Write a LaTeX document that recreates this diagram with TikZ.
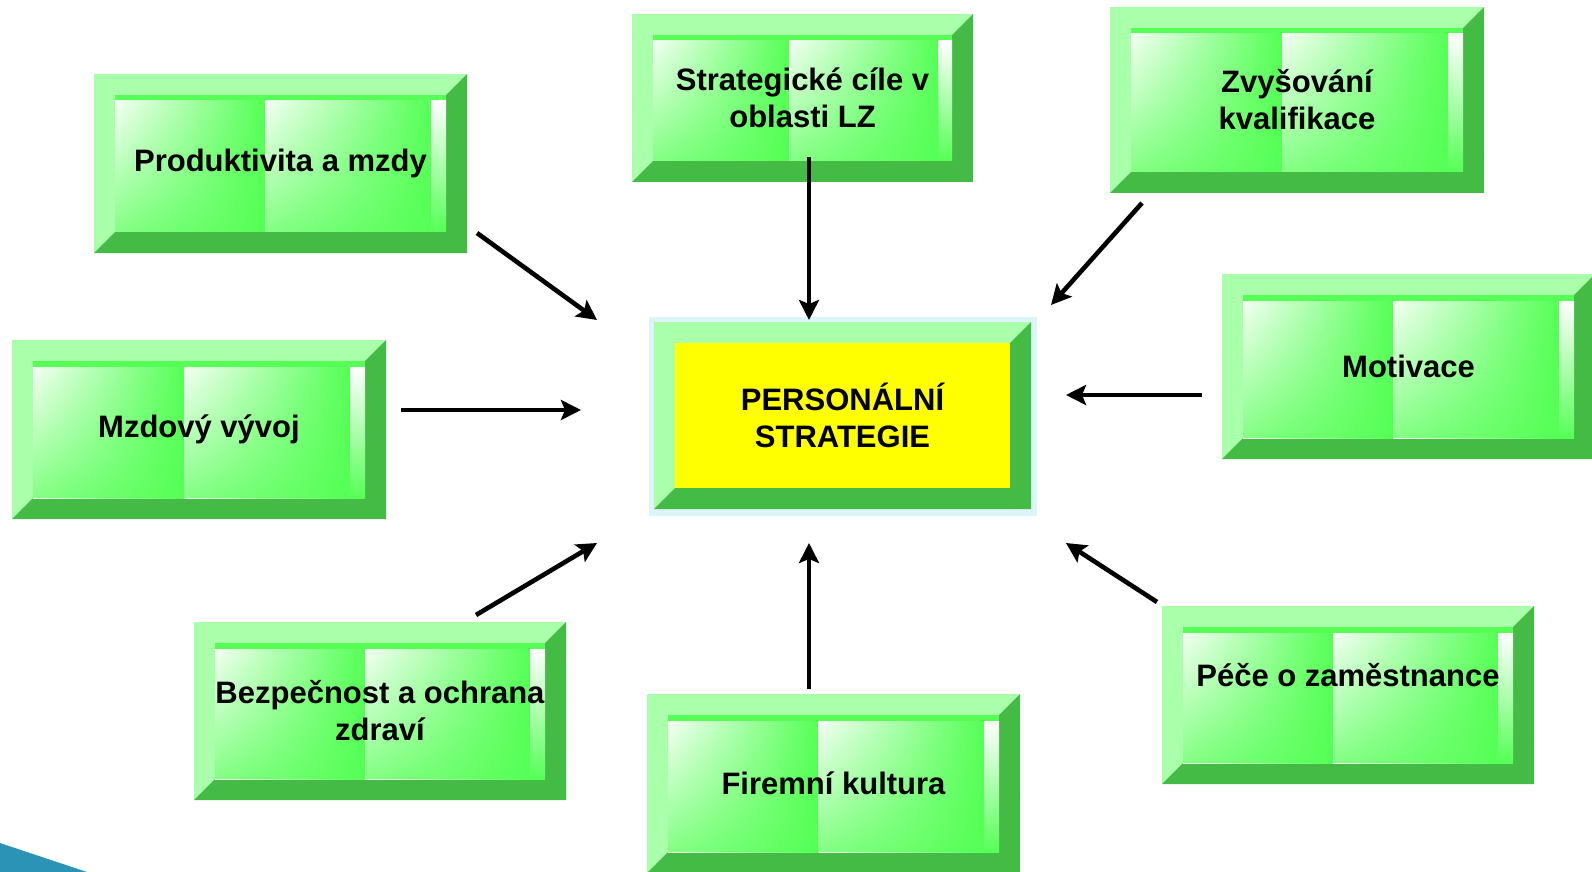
\documentclass[tikz,border=0pt]{standalone}
\usepackage{fontspec}
\setmainfont{Liberation Sans}
\usetikzlibrary{arrows.meta,calc,backgrounds,fadings}
\definecolor{bevlight}{HTML}{AAFFAA}
\definecolor{beveldark}{HTML}{44BB44}
\definecolor{glassgreen}{HTML}{55FF55}
\definecolor{glasspale}{HTML}{F4FFF4}
\definecolor{coreyellow}{HTML}{FFFF00}
\definecolor{frameblue}{HTML}{DDF4FA}
\definecolor{cornerblue}{HTML}{2A93B6}
\newcommand\boxfont{\bfseries\fontsize{15.5}{18.5}\selectfont}
\newcommand\bevelframe{%
  \coordinate (bnw) at (path picture bounding box.north west);
  \coordinate (bse) at (path picture bounding box.south east);
  \coordinate (bne) at (bnw -| bse);
  \coordinate (bsw) at (bse -| bnw);
  \fill[bevlight] (bnw) rectangle (bse);
  \fill[beveldark] (bne) -- (bse) -- (bsw) -- ([shift={(10.5pt,10.5pt)}]bsw)
    -- ([shift={(-10.5pt,10.5pt)}]bse) -- ([shift={(-10.5pt,-10.5pt)}]bne) -- cycle;
  \coordinate (fnw) at ([shift={(10.5pt,-10.5pt)}]bnw);
  \coordinate (fse) at ([shift={(-10.5pt,10.5pt)}]bse);
}
\newcommand\glassface{%
  \fill[glassgreen] (fnw) rectangle (fse);
  \coordinate (ptl) at ([yshift=-3pt]fnw);
  \coordinate (ps1) at ($(ptl)!.455!(ptl -| fse)$);
  \coordinate (ps2) at ($(ptl)!.955!(ptl -| fse)$);
  \shade[left color=glasspale, right color=glassgreen] (ptl) rectangle (ps1 |- fse);
  \shade[left color=glasspale, right color=glassgreen] (ps1) rectangle (ps2 |- fse);
  \shade[top color=white, bottom color=glassgreen] (ps2) rectangle (fse);
  \fill[glassgreen, path fading=north, fill opacity=.7] (ptl) rectangle (ps2 |- fse);
}
\tikzset{
  boxbase/.style={rectangle, inner sep=0pt, align=center, font=\boxfont,
    minimum width=186.5pt, minimum height=89.5pt},
  glassbox/.style={boxbase, path picture={\bevelframe\glassface}},
  corebox/.style={boxbase, path picture={\bevelframe\fill[coreyellow] (fnw) rectangle (fse);}},
  flow/.style={-{Stealth[length=10pt,width=10pt,inset=2pt]}, line width=2.3pt},
}
\begin{document}
\begin{tikzpicture}[x=.5pt,y=-.5pt]
  \clip (0,0) rectangle (1592,872);
  \fill[cornerblue] (0,843) -- (87,872) -- (0,872) -- cycle;

  \node[glassbox] (prod) at (280.5,163.5) {Produktivita a mzdy};
  \node[glassbox,minimum width=170.5pt,minimum height=84pt] (strat) at (802.5,98) {Strategické cíle v\\oblasti LZ};
  \node[glassbox,minimum width=187pt,minimum height=93pt] (kval) at (1297,100) {Zvyšování\\kvalifikace};
  \node[glassbox,minimum width=187pt] (mzdy) at (199,429.5) {Mzdový vývoj};
  \node[corebox,minimum width=188.5pt,minimum height=93.5pt] (core) at (842.5,415.5) {PERSONÁLNÍ\\STRATEGIE};
  \node[glassbox,minimum height=92.5pt] (motiv) at (1408.5,366.5) {Motivace};
  \node[glassbox,minimum width=186pt,minimum height=89pt] (bezp) at (380,711) {Bezpečnost a ochrana\\zdraví};
  \node[glassbox] (firma) at (833.5,783.5) {Firemní kultura};
  \node[glassbox,minimum width=186pt,minimum height=89pt] (pece) at (1348,695) {\raisebox{10pt}[\height][\depth]{Péče o zaměstnance}};
  \begin{scope}[on background layer]
    \fill[frameblue] ([shift={(-2.5pt,2.5pt)}]core.north west) rectangle ([shift={(3pt,-3.5pt)}]core.south east);
  \end{scope}

  \coordinate (prod-tail) at (477,233);
  \coordinate (strat-tail) at (809,157);
  \coordinate (kval-tail) at (1142,203);
  \coordinate (mzdy-tail) at (401,410);
  \coordinate (motiv-tail) at (1202,395);
  \coordinate (bezp-tail) at (476,615);
  \coordinate (firma-tail) at (809,689);
  \coordinate (pece-tail) at (1157,602);
  \coordinate (core-nw) at (597,320);
  \coordinate (core-n) at (809,320);
  \coordinate (core-ne) at (1051,305);
  \coordinate (core-w) at (581,410);
  \coordinate (core-e) at (1066,395);
  \coordinate (core-sw) at (597,543);
  \coordinate (core-s) at (809,543);
  \coordinate (core-se) at (1066,543);
  \draw[flow] (prod-tail) -- (core-nw);
  \draw[flow] (strat-tail) -- (core-n);
  \draw[flow] (kval-tail) -- (core-ne);
  \draw[flow] (mzdy-tail) -- (core-w);
  \draw[flow] (motiv-tail) -- (core-e);
  \draw[flow] (bezp-tail) -- (core-sw);
  \draw[flow] (firma-tail) -- (core-s);
  \draw[flow] (pece-tail) -- (core-se);
\end{tikzpicture}
\end{document}
